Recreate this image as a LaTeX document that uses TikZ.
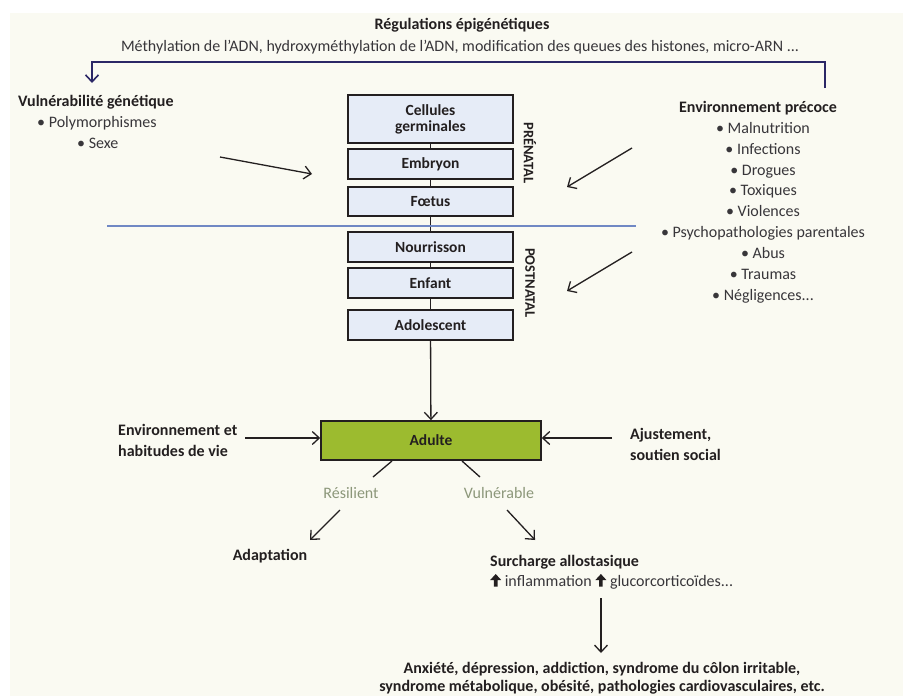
\documentclass[tikz,border=0pt]{standalone}
\usepackage{fontspec}
\setmainfont{Carlito}
\usetikzlibrary{arrows.meta}
\definecolor{bgc}{HTML}{FAFAF2}
\definecolor{navy}{HTML}{2B2766}
\definecolor{boxfill}{HTML}{E6ECF7}
\definecolor{sepblue}{HTML}{7088C4}
\definecolor{adultg}{HTML}{9CBB2F}
\definecolor{greytxt}{HTML}{8C977A}
\definecolor{txt}{HTML}{231F20}
\definecolor{itemtxt}{HTML}{38363A}
\newcommand\uparr{\tikz[baseline=0pt,x=1pt,y=1pt]\fill[txt] (-1.8,-0.5)--(-1.8,6)--(-5.5,6)--(0,12)--(5.5,6)--(1.8,6)--(1.8,-0.5)--cycle;}
\tikzset{
  stage/.style={draw=txt,line width=1.6pt,fill=boxfill,minimum width=165pt,font=\fontsize{15.5}{17}\selectfont\bfseries,text=txt,align=center,inner sep=0pt},
  conn/.style={line width=1.4pt,draw=txt},
  arr/.style={line width=1.3pt,draw=txt,-{Straight Barb[length=7pt,width=13pt]}},
  head/.style={font=\fontsize{16}{21}\selectfont\bfseries,text=txt,align=center,inner sep=0pt},
  items/.style={font=\fontsize{16}{21}\selectfont,text=itemtxt,align=center,inner sep=0pt},
  vert/.style={font=\fontsize{14.5}{16}\selectfont\bfseries,text=txt,rotate=-90,inner sep=0pt}
}
\begin{document}
\begin{tikzpicture}[x=1pt,y=-1pt]
\useasboundingbox (0,0) rectangle (903,696);
\fill[bgc] (10,13) rectangle (903,696);
% top
\node[head,anchor=base] (title) at (462,30) {Régulations épigénétiques};
\node[items,anchor=base] (meth) at (460,51) {Méthylation de l’ADN, hydroxyméthylation de l’ADN, modification des queues des histones, micro-ARN ...};
\coordinate (bR) at (825,88);
\coordinate (bL) at (92,83);
\draw[navy,line width=1.6pt,-{Straight Barb[length=7pt,width=13pt]}] (bR) -- (825,62) -- (92,62) -- (bL);
% left genetic
\node[head,anchor=base west] (vul) at (18,106) {Vulnérabilité génétique};
\node[items,anchor=base west] (poly) at (37,127) {• Polymorphismes};
\node[items,anchor=base west] (sexe) at (77,148) {• Sexe};
\coordinate (vulS) at (220,157);
% stages
\node[stage,minimum height=48pt] (cg) at (430.5,119) {Cellules\\[-1pt]germinales};
\node[stage,minimum height=30pt] (emb) at (430.5,164) {Embryon};
\node[stage,minimum height=29pt] (foe) at (430.5,201.5) {Fœtus};
\node[stage,minimum height=30pt] (nou) at (430.5,247) {Nourrisson};
\node[stage,minimum height=30pt] (enf) at (430.5,283) {Enfant};
\node[stage,minimum height=30pt] (ado) at (430.5,325) {Adolescent};
\draw[conn] (cg) -- (emb);
\draw[conn] (emb) -- (foe);
\draw[conn] (foe) -- (nou);
\draw[conn] (nou) -- (enf);
\draw[conn] (enf) -- (ado);
\coordinate (sepL) at (107,226);
\coordinate (sepR) at (636,226);
\draw[sepblue,line width=1.2pt] (sepL) -- (sepR);
\node[vert] (pre) at (530,153) {PRÉNATAL};
\node[vert] (post) at (530,283) {POSTNATAL};
\draw[arr] (vulS) -- (312,174);
% right early environment
\node[head,anchor=base] (envp) at (758,112) {Environnement précoce};
\node[items,anchor=base] (i1) at (763,133) {• Malnutrition};
\node[items,anchor=base] (i2) at (763,154) {• Infections};
\node[items,anchor=base] (i3) at (763,175) {• Drogues};
\node[items,anchor=base] (i4) at (763,195) {• Toxiques};
\node[items,anchor=base] (i5) at (763,216) {• Violences};
\node[items,anchor=base] (i6) at (763,237) {• Psychopathologies parentales};
\node[items,anchor=base] (i7) at (763,258) {• Abus};
\node[items,anchor=base] (i8) at (763,279) {• Traumas};
\node[items,anchor=base] (i9) at (763,300) {• Négligences...};
\coordinate (e1) at (632,148);
\coordinate (e2) at (632,252);
\draw[arr] (e1) -- (567,187);
\draw[arr] (e2) -- (567,291);
% adult
\node[stage,fill=adultg,minimum width=220pt,minimum height=39pt] (adu) at (431,440.5) {Adulte};
\draw[arr] (ado) -- (adu);
\node[head,anchor=base west] (envh1) at (118,435) {Environnement et};
\node[head,anchor=base west] (envh2) at (118,456) {habitudes de vie};
\node[head,anchor=base west] (aju1) at (630,439) {Ajustement,};
\node[head,anchor=base west] (aju2) at (630,460) {soutien social};
\draw[arr] (245,438) -- (adu.west|-245,438);
\draw[arr] (612,438) -- (adu.east|-612,438);
\node[items,text=greytxt,anchor=base] (res) at (351,498) {Résilient};
\node[items,text=greytxt,anchor=base] (vulb) at (499,498) {Vulnérable};
\draw[conn,line width=1.3pt] (392,461) -- (373,477);
\draw[conn,line width=1.3pt] (462,461) -- (480,477);
\node[head,anchor=base] (adap) at (270,560) {Adaptation};
\node[head,anchor=base west] (surch) at (490,566) {Surcharge allostasique};
\node[items,anchor=base west] (infl) at (490,586) {\uparr\ inflammation \uparr\ glucorcorticoïdes...};
\draw[arr] (340,510) -- (310,540);
\draw[arr] (507,510) -- (535,540);
\coordinate (sA) at (601,598);
\node[head,anchor=base] (patho1) at (602,673) {Anxiété, dépression, addiction, syndrome du côlon irritable,};
\node[head,anchor=base] (patho2) at (602,691) {syndrome métabolique, obésité, pathologies cardiovasculaires, etc.};
\draw[arr] (sA) -- (601,653);
\end{tikzpicture}
\end{document}
